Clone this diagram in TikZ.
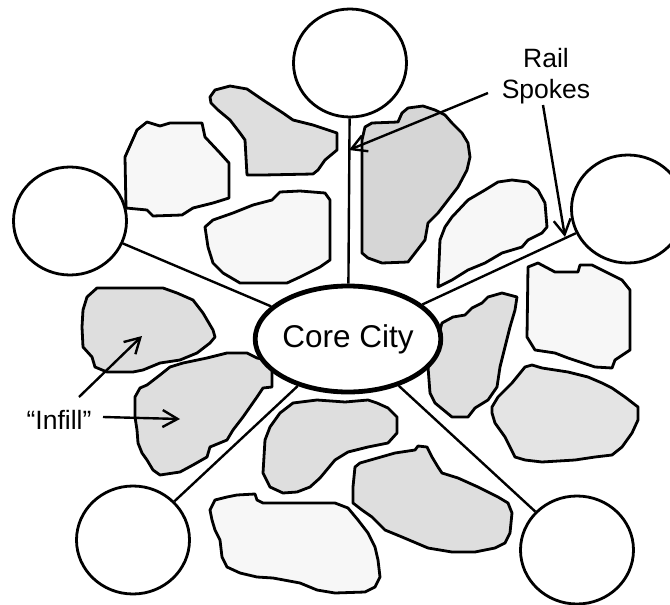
\documentclass[tikz,border=0pt]{standalone}
\usepackage{fontspec}
\setmainfont{Liberation Sans}
\usetikzlibrary{shapes.geometric,arrows.meta}
\definecolor{blobgray}{HTML}{DEDEDE}
\definecolor{blobdark}{HTML}{D6D6D6}
\definecolor{blobmid}{HTML}{E4E4E4}
\definecolor{bloblight}{HTML}{F7F7F7}
\tikzset{
  blob/.style={draw=black, line width=2.8pt, line join=round},
  station/.style={draw=black, line width=2.8pt, ellipse, fill=white, minimum width=113pt, minimum height=108pt, inner sep=0pt},
  core/.style={draw=black, line width=4.8pt, ellipse, fill=white, minimum width=161pt, minimum height=106pt, inner sep=0pt, font=\fontsize{31.5}{36}\selectfont},
  spoke/.style={draw=black, line width=2.4pt},
  arr/.style={draw=black, line width=2.4pt, -{Straight Barb[length=15pt,width=17pt,line width=2.4pt]}},
  lbl/.style={font=\fontsize{26.5}{30.5}\selectfont, align=center, inner sep=0pt}
}
\begin{document}
\begin{tikzpicture}[x=1pt,y=-1pt]
\useasboundingbox (0,0) rectangle (670,605);
\clip (0,0) rectangle (670,605);
% blobs
\draw[blob, fill=bloblight] (125,157)--(137,130)--(147,122)--(160,126)--(170,123)--(202,123)--(205,137)--(220,153)--(229,163)--(229,198)--(213,203)--(193,208)--(182,215)--(153,216)--(147,210)--(126,208)--cycle;
\draw[blob, fill=blobgray] (210,97)--(215,90)--(230,86)--(247,89)--(263,100)--(283,113)--(293,120)--(313,125)--(337,133)--(337,150)--(325,160)--(318,170)--(313,174)--(263,175)--(247,175)--(245,140)--(240,133)--(230,120)--(218,110)--(211,103)--cycle;
\draw[blob, fill=bloblight] (205,227)--(213,220)--(233,213)--(253,205)--(272,200)--(280,192)--(300,191)--(325,193)--(330,200)--(330,260)--(320,267)--(300,277)--(287,283)--(240,283)--(223,273)--(213,263)--(208,247)--cycle;
\draw[blob, fill=blobdark] (362,140)--(365,127)--(372,123)--(398,122)--(402,113)--(408,108)--(423,106)--(435,110)--(445,115)--(452,123)--(462,133)--(468,143)--(470,157)--(467,170)--(458,187)--(448,200)--(438,213)--(428,223)--(425,240)--(415,253)--(408,262)--(382,263)--(368,258)--(362,253)--cycle;
\draw[blob, fill=bloblight] (438,287)--(440,240)--(445,227)--(452,217)--(468,200)--(485,190)--(498,182)--(512,180)--(528,182)--(538,190)--(545,203)--(547,227)--(542,233)--(528,240)--(522,247)--(502,253)--(485,263)--(468,270)--(452,280)--cycle;
\draw[blob, fill=bloblight] (528,267)--(538,263)--(555,272)--(578,272)--(580,265)--(592,265)--(608,273)--(622,280)--(630,290)--(630,350)--(615,360)--(612,368)--(595,367)--(568,358)--(555,353)--(535,350)--(527,337)--cycle;
\draw[blob, fill=blobgray] (438,337)--(442,323)--(453,317)--(465,315)--(472,308)--(482,303)--(488,297)--(502,293)--(517,297)--(515,310)--(510,327)--(505,347)--(500,367)--(497,387)--(488,400)--(475,408)--(468,417)--(452,417)--(435,403)--(430,393)--(428,367)--(433,350)--cycle;
\draw[blob, fill=blobmid] (492,407)--(498,397)--(512,383)--(525,367)--(532,365)--(542,368)--(568,372)--(588,377)--(602,383)--(612,388)--(625,397)--(638,407)--(638,420)--(632,433)--(622,447)--(612,455)--(595,457)--(575,460)--(542,462)--(525,460)--(515,457)--(505,437)--(495,423)--(492,413)--cycle;
\draw[blob, fill=blobgray] (353,487)--(355,467)--(360,463)--(395,453)--(415,450)--(418,446)--(427,447)--(432,457)--(438,467)--(442,473)--(458,478)--(478,487)--(498,497)--(508,503)--(512,513)--(510,533)--(505,543)--(495,548)--(475,552)--(452,552)--(428,548)--(402,537)--(385,530)--(372,517)--(362,510)--(353,503)--cycle;
\draw[blob, fill=blobgray] (265,440)--(270,427)--(280,413)--(293,403)--(317,400)--(345,402)--(368,400)--(377,403)--(388,408)--(397,417)--(397,433)--(388,443)--(368,447)--(348,452)--(335,460)--(320,478)--(310,487)--(297,492)--(283,493)--(270,487)--(263,473)--cycle;
\draw[blob, fill=bloblight] (210,510)--(215,500)--(227,497)--(237,495)--(255,494)--(257,500)--(263,503)--(335,503)--(348,508)--(358,520)--(368,533)--(375,547)--(378,560)--(380,577)--(375,587)--(365,592)--(335,593)--(317,590)--(300,583)--(273,578)--(257,577)--(240,573)--(227,567)--(222,557)--(220,540)--(215,530)--(212,520)--cycle;
\draw[blob, fill=blobgray] (83,310)--(87,297)--(97,288)--(163,288)--(177,293)--(193,300)--(203,313)--(213,330)--(215,337)--(210,343)--(197,353)--(180,360)--(160,363)--(143,370)--(133,372)--(107,372)--(95,367)--(92,357)--(83,347)--(82,327)--cycle;
\draw[blob, fill=blobgray] (135,397)--(140,388)--(147,385)--(160,375)--(170,367)--(183,363)--(207,358)--(227,353)--(247,353)--(257,358)--(272,361)--(272,387)--(263,388)--(257,397)--(250,407)--(243,417)--(233,430)--(227,440)--(210,447)--(207,457)--(193,465)--(180,472)--(160,475)--(153,470)--(147,460)--(142,453)--(138,443)--(137,430)--(135,417)--cycle;
% stations and core
\node[station] (top) at (350,63) {};
\node[station] (left) at (70,221) {};
\node[station] (right) at (628,209) {};
\node[station] (bl) at (133,540) {};
\node[station] (br) at (577,550) {};
\node[core] (core) at (348,339) {Core City};
% spokes
\draw[spoke] (top) -- (core);
\draw[spoke] (left) -- (core);
\draw[spoke] (right) -- (core);
\draw[spoke] (bl) -- (core);
\draw[spoke] (br) -- (core);
% labels and arrows
\node[lbl] (rail) at (546,76) {Rail\\Spokes};
\node[lbl] (infill) at (59,420) {“Infill”};
\coordinate (r1s) at (488,93);
\coordinate (r1t) at (349,150);
\coordinate (r2s) at (543,105);
\coordinate (r2t) at (565,237);
\coordinate (i1s) at (79,397);
\coordinate (i1t) at (142,336);
\coordinate (i2s) at (103,417);
\coordinate (i2t) at (180,419);
\draw[arr] (r1s) -- (r1t);
\draw[arr] (r2s) -- (r2t);
\draw[arr] (i1s) -- (i1t);
\draw[arr] (i2s) -- (i2t);
\end{tikzpicture}
\end{document}
